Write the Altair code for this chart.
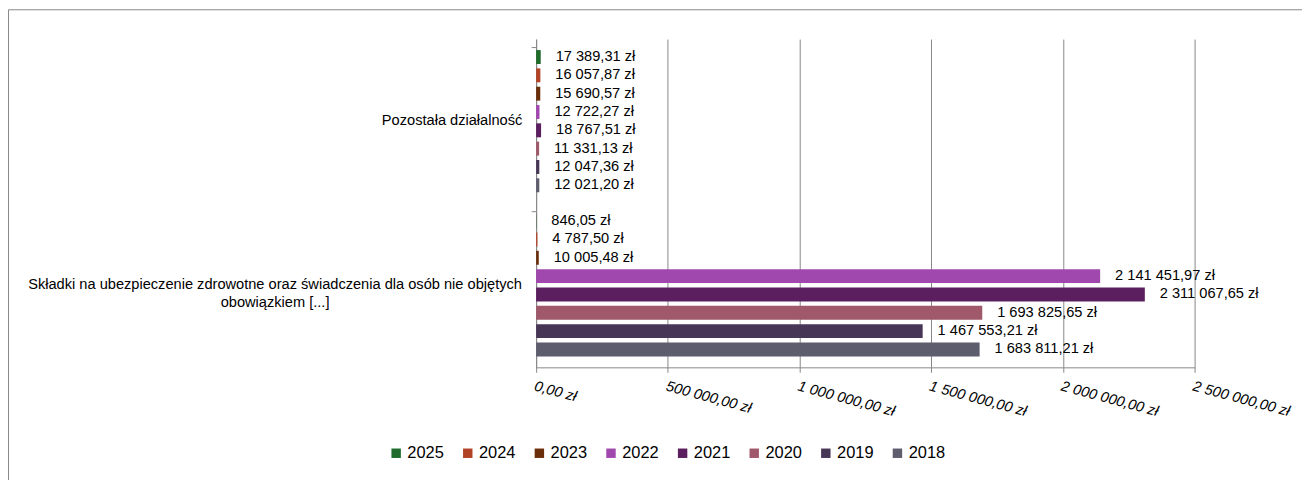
import altair as alt
import pandas as pd

categories = ["Pozostała działalność",
              "Składki na ubezpieczenie zdrowotne oraz świadczenia dla osób nie objętych\nobowiązkiem [...]"]
years = ["2025", "2024", "2023", "2022", "2021", "2020", "2019", "2018"]
colors = ["#1f6b2b", "#b34327", "#6a2e0a", "#a148ae", "#5b1e5e", "#a0596a", "#483657", "#5e5d6e"]
values_pozostala = [17389.31, 16057.87, 15690.57, 12722.27, 18767.51, 11331.13, 12047.36, 12021.20]
values_skladki = [846.05, 4787.50, 10005.48, 2141451.97, 2311067.65, 1693825.65, 1467553.21, 1683811.21]
tick_values = [0, 500000, 1000000, 1500000, 2000000, 2500000]
tick_labels = ["0,00 zł", "500 000,00 zł", "1 000 000,00 zł", "1 500 000,00 zł",
               "2 000 000,00 zł", "2 500 000,00 zł"]


def fmt_pl(v):
    s = f"{v:,.2f}"
    s = s.replace(",", " ").replace(".", ",")
    return s + " zł"


rows = []
for cat, vals in zip(categories, [values_pozostala, values_skladki]):
    for y, v in zip(years, vals):
        rows.append({"kategoria": cat, "rok": y, "wartosc": v, "etykieta": fmt_pl(v)})
df = pd.DataFrame(rows)

FONT = "Liberation Sans"
label_expr = "[" + ",".join(f"'{t}'" for t in tick_labels) + "][round(datum.value/500000)]"

y_enc = alt.Y("kategoria:N", sort=categories, title=None,
              scale=alt.Scale(paddingInner=0.1, paddingOuter=0.05),
              axis=alt.Axis(
                  labelExpr="split(datum.label, '\\n')",
                  labelAlign="center",
                  labelBaseline="middle",
                  labelLineHeight=18,
                  labelLimit=0,
                  labelFontSize=14.7,
                  labelFont=FONT,
                  labelColor="#000000",
                  labelPadding={"condition": {"test": "indexof(datum.value, 'Pozostała') == 0", "value": 80},
                                "value": 258},
                  tickSize=5,
                  tickColor="#878787",
                  domainColor="#878787",
                  bandPosition=0,
                  grid=False,
              ))
yoff_enc = alt.YOffset("rok:N", sort=years,
                       scale=alt.Scale(paddingInner=0.24, paddingOuter=0.15))
x_enc = alt.X("wartosc:Q", title=None,
              scale=alt.Scale(domain=[0, 2500000], nice=False, zero=True),
              axis=alt.Axis(values=tick_values, labelExpr=label_expr,
                            labelAngle=15, labelAlign="left", labelBaseline="top",
                            labelFontStyle="italic", labelFontSize=14.7, labelFont=FONT,
                            labelColor="#000000", labelPadding=6,
                            labelFlush=False, labelOverlap=False,
                            tickSize=5, tickColor="#878787",
                            domainColor="#878787",
                            grid=True, gridColor="#878787", gridWidth=1))

base = alt.Chart(df)

bars = base.mark_bar().encode(
    y=y_enc,
    yOffset=yoff_enc,
    x=x_enc,
    color=alt.Color("rok:N", sort=years,
                    scale=alt.Scale(domain=years, range=colors),
                    legend=alt.Legend(title=None, orient="none", legendX=-149, legendY=408,
                                      direction="horizontal", columns=8,
                                      symbolType="square", symbolSize=90, symbolStrokeWidth=0,
                                      labelFontSize=16.5, labelFont=FONT, labelColor="#000000",
                                      labelOffset=3, columnPadding=15)),
)

texts = base.mark_text(align="left", baseline="middle", dx=15, fontSize=14.7,
                       font=FONT, color="#000000").encode(
    y=alt.Y("kategoria:N", sort=categories),
    yOffset=alt.YOffset("rok:N", sort=years),
    x=alt.X("wartosc:Q"),
    text="etykieta:N",
)

frame = alt.Chart(pd.DataFrame({"a": [0]})).mark_rect(
    fill="transparent", stroke="#878787", strokeWidth=1
).encode(x=alt.value(-530.5), x2=alt.value(1200), y=alt.value(-29.5), y2=alt.value(800))

chart = alt.layer(bars, texts, frame).properties(
    width=662, height=330,
    padding={"left": 531, "top": 30, "right": 108, "bottom": 112},
    autosize=alt.AutoSizeParams(type="none"),
    background="#ffffff",
).configure_view(stroke=None)

chart.save("out.html", embed_options={"renderer": "svg", "actions": False})
